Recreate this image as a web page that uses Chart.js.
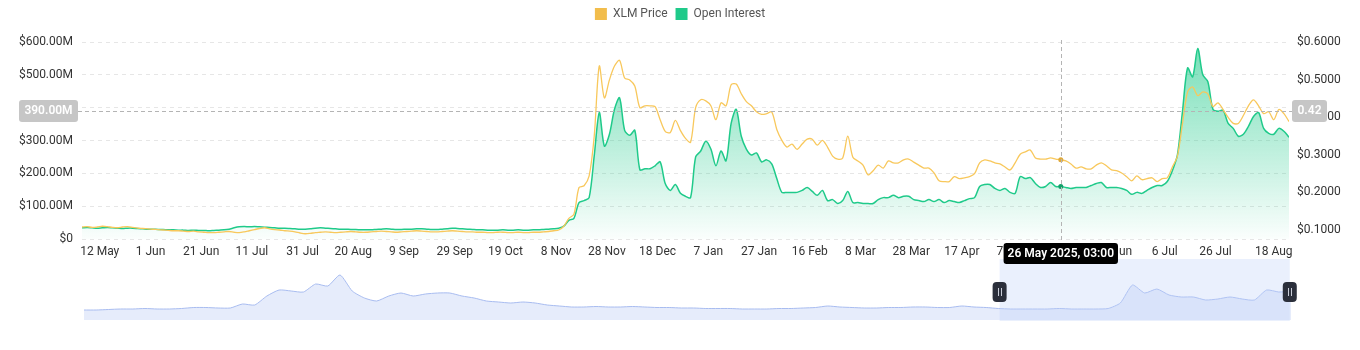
<!DOCTYPE html>
<html>
<head>
<meta charset="utf-8">
<title>XLM Price vs Open Interest</title>
<script src="https://cdn.jsdelivr.net/npm/chart.js@4.4.1/dist/chart.umd.min.js"></script>
<style>
  html, body { margin: 0; padding: 0; background: #fff; }
  #wrap { position: relative; width: 1360px; height: 350px; overflow: hidden; }
  #nav { position: absolute; left: 0; top: 256px; }
  #main { position: absolute; left: 0; top: 0; z-index: 2; }
</style>
</head>
<body>
<div id="wrap">
  <canvas id="nav" width="1360" height="70"></canvas>
  <canvas id="main" width="1360" height="350"></canvas>
</div>
<script>
// one sample every 2 days, starting 5 May 2024
const dayStep = 2;

const priceData = [
  0.107, 0.108, 0.106, 0.107, 0.109, 0.108, 0.106, 0.105, 0.107, 0.108, 0.106, 0.104, 0.103, 0.102,
  0.101, 0.100, 0.099, 0.098, 0.097, 0.097, 0.096, 0.095, 0.096, 0.094, 0.093, 0.092, 0.092, 0.093,
  0.094, 0.095, 0.093, 0.092, 0.094, 0.097, 0.100, 0.103, 0.105, 0.102, 0.100, 0.099, 0.097,
  0.096, 0.094, 0.091, 0.089, 0.090, 0.092, 0.093, 0.094, 0.093, 0.092, 0.093, 0.094, 0.095, 0.094, 0.093,
  0.093, 0.094, 0.095, 0.096, 0.095, 0.094, 0.093, 0.094, 0.095, 0.096, 0.097, 0.096, 0.095, 0.094, 0.094,
  0.095, 0.096, 0.097, 0.096, 0.095, 0.094, 0.094, 0.093, 0.093, 0.092, 0.092, 0.093, 0.093, 0.092, 0.092,
  0.093, 0.092, 0.092, 0.093, 0.093, 0.094, 0.095, 0.097,
  0.099, 0.109, 0.130, 0.141, 0.212, 0.217, 0.243, 0.349, 0.536, 0.451,
  0.499, 0.536, 0.551, 0.504, 0.499, 0.483, 0.425, 0.430, 0.430, 0.428,
  0.393, 0.362, 0.359, 0.391, 0.364, 0.343, 0.333, 0.425, 0.446, 0.443,
  0.430, 0.393, 0.438, 0.430, 0.486, 0.488, 0.462, 0.441, 0.430, 0.414,
  0.407, 0.409, 0.414, 0.367, 0.338, 0.320, 0.328, 0.314, 0.328, 0.341,
  0.341, 0.325, 0.338, 0.320, 0.296, 0.288, 0.291, 0.349, 0.293, 0.283,
  0.272, 0.246, 0.257, 0.272, 0.264, 0.283, 0.278, 0.278, 0.286, 0.288,
  0.280, 0.272, 0.264, 0.264, 0.251, 0.230, 0.228, 0.228, 0.241, 0.236,
  0.238, 0.241, 0.249, 0.278, 0.286, 0.283, 0.278, 0.275, 0.267, 0.259,
  0.278, 0.301, 0.307, 0.312, 0.291, 0.288, 0.288, 0.291, 0.288, 0.286,
  0.283, 0.275, 0.264, 0.267, 0.262, 0.262, 0.272, 0.278, 0.270, 0.259,
  0.257, 0.251, 0.241, 0.230, 0.243, 0.233, 0.236, 0.238, 0.228, 0.236,
  0.238, 0.267, 0.296, 0.383, 0.467, 0.480, 0.457, 0.467, 0.462, 0.428,
  0.438, 0.420, 0.399, 0.383, 0.383, 0.404, 0.430, 0.446, 0.430, 0.409,
  0.414, 0.393, 0.420, 0.409, 0.388
];

// open interest in USD millions
const oiData = [
  34, 35, 34, 33, 34, 35, 34, 33, 32, 33, 33, 32, 31, 30,
  30, 29, 29, 28, 28, 27, 27, 26, 27, 26, 26, 25, 26, 27,
  28, 30, 34, 37, 38, 37, 38, 37, 36, 35, 34, 33, 33,
  32, 31, 30, 30, 31, 33, 34, 33, 32, 31, 30, 30, 29, 29, 28,
  28, 28, 29, 30, 31, 30, 29, 29, 30, 30, 31, 31, 30, 29, 29,
  30, 31, 33, 32, 31, 30, 29, 28, 28, 27, 27, 27, 28, 27, 27,
  28, 27, 27, 28, 28, 29, 30, 31,
  33, 39, 57, 63, 111, 117, 126, 253, 385, 283,
  319, 395, 430, 331, 316, 331, 211, 214, 214, 223,
  235, 169, 148, 166, 139, 130, 126, 250, 268, 298,
  274, 223, 268, 238, 352, 395, 313, 274, 256, 262,
  235, 241, 229, 184, 142, 142, 142, 142, 148, 157,
  145, 133, 148, 117, 120, 108, 117, 145, 111, 111,
  108, 108, 108, 120, 126, 126, 133, 126, 130, 130,
  120, 117, 114, 120, 114, 120, 111, 117, 114, 111,
  117, 123, 126, 160, 166, 166, 154, 148, 154, 142,
  139, 190, 184, 187, 169, 157, 160, 172, 160, 160,
  157, 154, 157, 157, 157, 163, 169, 172, 157, 157,
  157, 154, 148, 136, 142, 139, 148, 157, 163, 163,
  175, 208, 256, 389, 521, 494, 580, 500, 479, 395,
  389, 392, 352, 337, 313, 319, 343, 373, 385, 337,
  322, 319, 337, 328, 310
];

// x ticks: days since 5 May 2024
const tickDays = [7, 27, 47, 67, 87, 107, 127, 147, 167, 187, 207, 227, 247, 267, 287, 307, 327, 347, 367, 387, 407, 427, 447, 470];
const tickLabels = ['12 May', '1 Jun', '21 Jun', '11 Jul', '31 Jul', '20 Aug', '9 Sep', '29 Sep', '19 Oct', '8 Nov',
  '28 Nov', '18 Dec', '7 Jan', '27 Jan', '16 Feb', '8 Mar', '28 Mar', '17 Apr', '7 May', '27 May', '16 Jun',
  '6 Jul', '26 Jul', '18 Aug'];
const priceTicks = [0.1, 0.2, 0.3, 0.4, 0.5, 0.6];

// full history shown in the range selector
const navData = [
  10, 10, 10.5, 11, 11, 11.5, 11, 11, 11.5, 12.5, 12.5, 12, 12, 16, 15, 24, 30, 29, 28, 36,
  34, 45, 29, 22, 19, 24, 27, 24, 26, 27, 27, 24, 22, 19, 18, 17, 18, 17, 15, 14,
  13, 13, 13.5, 13, 13, 13.5, 13, 12.5, 12.5, 12, 12, 11.5, 11.5, 11.5, 11, 11, 11, 11.5, 11.5, 12,
  12.5, 14, 13, 12.5, 12, 12, 12.5, 12.5, 13, 13, 12.5, 12.5, 14, 13, 12.5, 11.5, 11, 11, 11, 11,
  11.5, 11, 11, 11, 11.5, 17, 35, 27, 31, 25, 23, 23, 20, 21, 23, 21, 20, 30, 28, 29
];
const navWindow = [75.1, 98.9];

// hovered sample
const hoverIndex = 193;
const hoverOi = 390;
const hoverTime = '26 May 2025, 03:00';

const priceColor = '#f8c85c';
const oiColor = '#1fca8a';
const gridColor = '#e6e6e6';

Chart.defaults.font.family = 'Roboto';
Chart.defaults.font.size = 12;

const toPoints = arr => arr.map((v, i) => ({ x: i * dayStep, y: v }));

function roundBox(ctx, x, y, w, h, r, fill) {
  ctx.beginPath();
  ctx.roundRect(x, y, w, h, r);
  ctx.fillStyle = fill;
  ctx.fill();
}

// extra gap between legend and plot
const legendGap = {
  id: 'legendGap',
  beforeInit(chart) {
    const fit = chart.legend.fit;
    chart.legend.fit = function () {
      fit.call(this);
      this.height += 12;
    };
  }
};

const crosshair = {
  id: 'crosshair',
  afterDraw(chart) {
    const { ctx, chartArea: a, scales } = chart;
    const px = scales.x.getPixelForValue(hoverIndex * dayStep);
    const py = scales.y.getPixelForValue(hoverOi);
    ctx.save();
    ctx.lineWidth = 1;
    ctx.strokeStyle = '#b4b4b4';
    ctx.setLineDash([4, 3]);
    ctx.beginPath();
    ctx.moveTo(Math.round(px) + 0.5, a.top - 2);
    ctx.lineTo(Math.round(px) + 0.5, a.bottom + 4);
    ctx.moveTo(a.left - 4, Math.round(py) + 0.5);
    ctx.lineTo(a.right + 3, Math.round(py) + 0.5);
    ctx.stroke();
    ctx.setLineDash([]);

    ctx.font = '600 12px Roboto';
    ctx.textAlign = 'center';
    ctx.textBaseline = 'middle';

    const leftText = scales.y.getValueForPixel(py).toFixed(2) + 'M';
    roundBox(ctx, 19, py - 11, 59, 22, 3, '#c6c6c6');
    ctx.fillStyle = '#fff';
    ctx.fillText(leftText, 48.5, py + 0.5);

    const rightText = scales.y1.getValueForPixel(py).toFixed(2);
    roundBox(ctx, a.right + 3, py - 11, 35, 22, 3, '#c6c6c6');
    ctx.fillStyle = '#fff';
    ctx.fillText(rightText, a.right + 20.5, py + 0.5);

    const tw = ctx.measureText(hoverTime).width + 8;
    roundBox(ctx, px - tw / 2, a.bottom + 4, tw, 21, 3, '#000');
    ctx.fillStyle = '#fff';
    ctx.fillText(hoverTime, px, a.bottom + 15);
    ctx.restore();
  }
};

new Chart(document.getElementById('main'), {
  type: 'line',
  data: {
    datasets: [
      {
        label: 'XLM Price',
        data: toPoints(priceData),
        yAxisID: 'y1',
        borderColor: priceColor,
        backgroundColor: priceColor,
        borderWidth: 1.3,
        tension: 0.3,
        fill: false,
        pointRadius: ctx => ctx.dataIndex === hoverIndex ? 2.5 : 0,
        pointBackgroundColor: '#e0a93a',
        pointBorderWidth: 0
      },
      {
        label: 'Open Interest',
        data: toPoints(oiData),
        yAxisID: 'y',
        borderColor: oiColor,
        borderWidth: 1.5,
        tension: 0.3,
        fill: 'origin',
        backgroundColor: ctx => {
          const a = ctx.chart.chartArea;
          if (!a) return 'rgba(31,202,138,0.3)';
          const g = ctx.chart.ctx.createLinearGradient(0, a.top, 0, a.bottom);
          g.addColorStop(0, 'rgba(31,202,138,0.62)');
          g.addColorStop(1, 'rgba(31,202,138,0.02)');
          return g;
        },
        pointRadius: ctx => ctx.dataIndex === hoverIndex ? 2.5 : 0,
        pointBackgroundColor: '#12a06a',
        pointBorderWidth: 0
      }
    ]
  },
  options: {
    responsive: false,
    animation: false,
    events: [],
    layout: { padding: { top: 0, bottom: 91, left: 0, right: 0 } },
    plugins: {
      tooltip: { enabled: false },
      legend: {
        position: 'top',
        labels: {
          boxWidth: 12,
          boxHeight: 12,
          padding: 8,
          color: '#555',
          generateLabels: chart => chart.data.datasets.map((ds, i) => ({
            text: ds.label,
            fillStyle: i === 0 ? '#f2bd4c' : oiColor,
            strokeStyle: i === 0 ? '#f2bd4c' : oiColor,
            lineWidth: 0,
            fontColor: '#555',
            datasetIndex: i,
            hidden: false
          }))
        }
      }
    },
    scales: {
      x: {
        type: 'linear',
        min: 0,
        max: (priceData.length - 1) * dayStep,
        grid: { display: false, drawTicks: false },
        border: { display: false },
        afterBuildTicks: s => { s.ticks = tickDays.map(v => ({ value: v })); },
        afterFit: s => { s.height = 20; },
        ticks: {
          autoSkip: false,
          maxRotation: 0,
          padding: 6,
          color: '#333',
          callback: v => tickLabels[tickDays.indexOf(v)] || ''
        }
      },
      y: {
        position: 'left',
        min: 0,
        max: 600,
        grid: { color: gridColor, drawTicks: false },
        border: { display: false, dash: [4, 4] },
        afterFit: s => { s.width = 82; },
        ticks: {
          stepSize: 100,
          padding: 9,
          color: '#333',
          callback: v => v === 0 ? '$0' : '$' + v.toFixed(2) + 'M'
        }
      },
      y1: {
        position: 'right',
        min: 0.075,
        max: 0.6,
        grid: { display: false, drawTicks: false },
        border: { display: false },
        afterBuildTicks: s => { s.ticks = priceTicks.map(v => ({ value: v })); },
        afterFit: s => { s.width = 71; },
        ticks: {
          padding: 8,
          color: '#333',
          callback: v => '$' + v.toFixed(4)
        }
      }
    }
  },
  plugins: [legendGap, crosshair]
});

// range selector below the main chart
const selector = {
  id: 'selector',
  afterDatasetsDraw(chart) {
    const { ctx, scales } = chart;
    const x1 = scales.x.getPixelForValue(navWindow[0]);
    const x2 = scales.x.getPixelForValue(navWindow[1]);
    ctx.save();
    ctx.fillStyle = 'rgba(190, 208, 250, 0.33)';
    ctx.fillRect(x1, 3, x2 - x1, 62);
    [x1, x2].forEach(x => {
      roundBox(ctx, x - 7, 26, 14, 20, 4, '#2b2f3b');
      ctx.strokeStyle = '#c9cdd8';
      ctx.lineWidth = 1;
      ctx.beginPath();
      ctx.moveTo(Math.round(x) - 1.5, 32);
      ctx.lineTo(Math.round(x) - 1.5, 40);
      ctx.moveTo(Math.round(x) + 1.5, 32);
      ctx.lineTo(Math.round(x) + 1.5, 40);
      ctx.stroke();
    });
    ctx.restore();
  }
};

new Chart(document.getElementById('nav'), {
  type: 'line',
  data: {
    datasets: [{
      data: navData.map((v, i) => ({ x: i, y: v })),
      borderColor: '#a8bcf0',
      borderWidth: 1,
      backgroundColor: '#e6ecfb',
      fill: 'origin',
      pointRadius: 0,
      tension: 0.2
    }]
  },
  options: {
    responsive: false,
    animation: false,
    events: [],
    layout: { padding: { left: 84, right: 69, top: 6, bottom: 6 } },
    plugins: { legend: { display: false }, tooltip: { enabled: false } },
    scales: {
      x: { type: 'linear', display: false, min: 0, max: navData.length - 1 },
      y: { display: false, min: 0, max: 58 }
    }
  },
  plugins: [selector]
});
</script>
</body>
</html>
